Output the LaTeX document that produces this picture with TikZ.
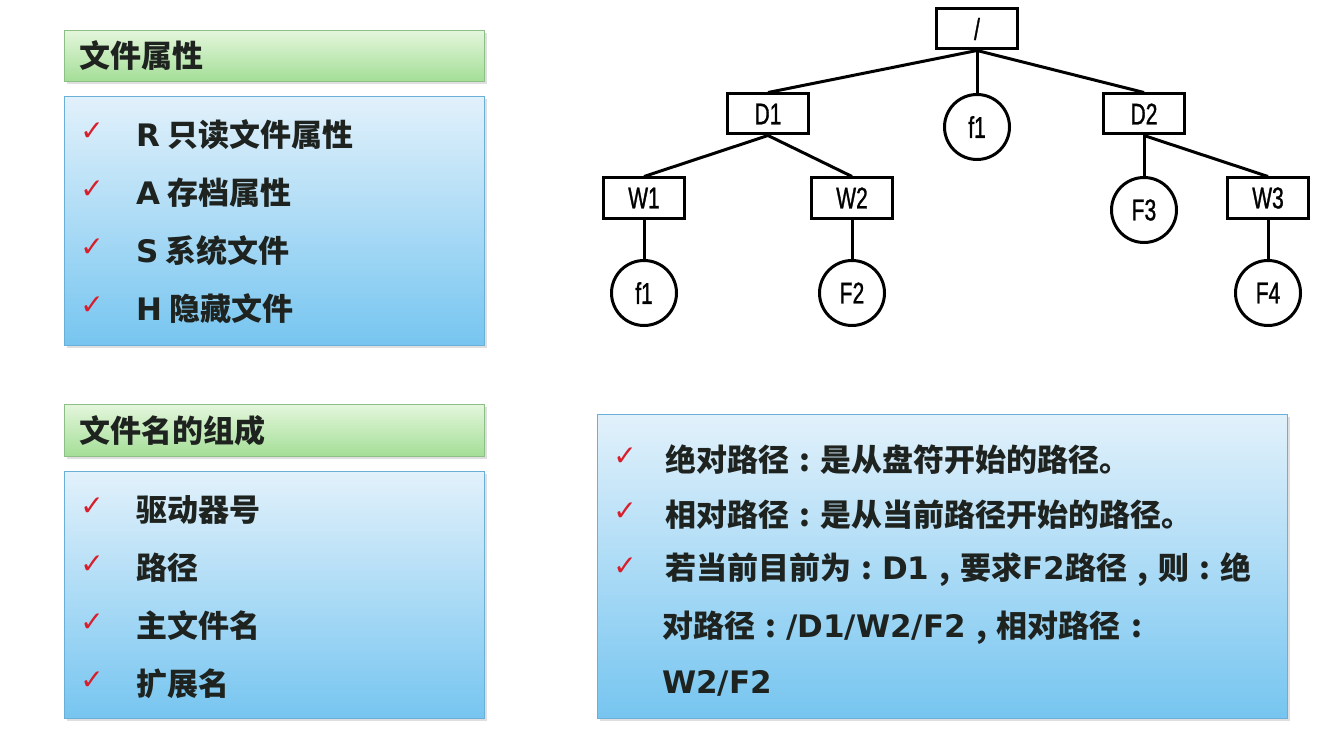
\documentclass[tikz,border=0pt]{standalone}
\usepackage{fontspec}
\newfontfamily\cjk{Noto Sans CJK SC}
\newfontfamily\lat{DejaVu Sans}
\newfontfamily\treefont[FakeStretch=0.7,FakeBold=1]{Liberation Sans}
\newfontfamily\symfont{DejaVu Sans}
\usetikzlibrary{shadows}
\definecolor{hdrtop}{HTML}{E4F6DC}
\definecolor{hdrbot}{HTML}{A3DE96}
\definecolor{hdrline}{HTML}{8CBF86}
\definecolor{boxtop}{HTML}{E2F1FB}
\definecolor{boxbot}{HTML}{76C5F0}
\definecolor{boxline}{HTML}{6AAFD8}
\definecolor{tickred}{HTML}{D81E2A}
\definecolor{ink}{HTML}{1E2320}
% centred full-width colon and comma
\newcommand{\cco}{\makebox[1em]{:}}
\newcommand{\ccm}{\makebox[1em]{,}}

\begin{document}
\begin{tikzpicture}[x=1pt,y=-1pt,
    hdrbox/.style={draw=hdrline, line width=1pt, top color=hdrtop, bottom color=hdrbot,
      anchor=north west, inner sep=0pt, drop shadow={opacity=0.25}},
    listbox/.style={draw=boxline, line width=1pt, top color=boxtop, bottom color=boxbot,
      anchor=north west, inner sep=0pt, drop shadow={opacity=0.25}},
    item/.style={anchor=west, inner sep=0pt, text=ink, font=\cjk\bfseries\fontsize{31}{31}\selectfont},
    tick/.style={inner sep=0pt, text=tickred, font=\symfont\fontsize{28}{28}\selectfont},
    dirbox/.style={draw, line width=3pt, minimum width=81pt, minimum height=40pt,
      inner sep=0pt, font=\treefont\fontsize{30}{30}\selectfont},
    filenode/.style={circle, draw, line width=3pt, minimum size=65pt,
      inner sep=0pt, font=\treefont\fontsize{30}{30}\selectfont},
    link/.style={line width=3pt}]
  \useasboundingbox[fill=white] (0,0) rectangle (1337,746);

  % File attributes
  \node[hdrbox, minimum width=420pt, minimum height=51pt] (hdr1) at (64,30) {};
  \node[item] (h1) at ([xshift=15pt]hdr1.west) {文件属性};
  \node[listbox, minimum width=420pt, minimum height=249pt] (box1) at (64,96) {};
  \foreach \txt [count=\i] in {{\lat R} 只读文件属性, {\lat A} 存档属性, {\lat S} 系统文件, {\lat H} 隐藏文件} {
    \node[tick] (c\i) at (92,74+58*\i) {✓};
    \node[item] (a\i) at (136,77+58*\i) {\txt};
  }

  % File name parts
  \node[hdrbox, minimum width=420pt, minimum height=52pt] (hdr2) at (64,404) {};
  \node[item] (h2) at ([xshift=15pt]hdr2.west) {文件名的组成};
  \node[listbox, minimum width=420pt, minimum height=247pt] (box2) at (64,471) {};
  \foreach \txt [count=\i] in {驱动器号, 路径, 主文件名, 扩展名} {
    \node[tick] (d\i) at (92,449+58*\i) {✓};
    \node[item] (b\i) at (136,452+58*\i) {\txt};
  }

  % Paths
  \node[listbox, minimum width=690pt, minimum height=304pt] (box3) at (597,414) {};
  \foreach \txt [count=\i] in {绝对路径\cco 是从盘符开始的路径。, 相对路径\cco 是从当前路径开始的路径。,
      若当前目前为\cco{\lat D1}\ccm 要求{\lat F2}路径\ccm 则\cco 绝} {
    \node[tick] (e\i) at (625,402+55*\i) {✓};
    \node[item] (p\i) at (665,405+55*\i) {\txt};
  }
  \node[item] (p4) at (662,628) {对路径\cco{\lat /D1/W2/F2}\ccm 相对路径\cco};
  \node[item] (p5) at (662,683) {{\lat W2/F2}};

  % Directory tree
  \node[dirbox]   (root) at (977,29)  {/};
  \node[dirbox]   (D1)   at (768,114) {D1};
  \node[filenode] (f1)   at (977,127) {f1};
  \node[dirbox]   (D2)   at (1144,114) {D2};
  \node[dirbox]   (W1)   at (644,198) {W1};
  \node[dirbox]   (W2)   at (852,198) {W2};
  \node[filenode] (F3)   at (1144,210) {F3};
  \node[dirbox]   (W3)   at (1268,198) {W3};
  \node[filenode] (f1b)  at (644,293) {f1};
  \node[filenode] (F2)   at (852,293) {F2};
  \node[filenode] (F4)   at (1268,293) {F4};
  \draw[link] (root.south) -- (D1.north);
  \draw[link] (root.south) -- (f1.north);
  \draw[link] (root.south) -- (D2.north);
  \draw[link] (D1.south) -- (W1.north);
  \draw[link] (D1.south) -- (W2.north);
  \draw[link] (D2.south) -- (F3.north);
  \draw[link] (D2.south) -- (W3.north);
  \draw[link] (W1.south) -- (f1b.north);
  \draw[link] (W2.south) -- (F2.north);
  \draw[link] (W3.south) -- (F4.north);
\end{tikzpicture}
\end{document}
